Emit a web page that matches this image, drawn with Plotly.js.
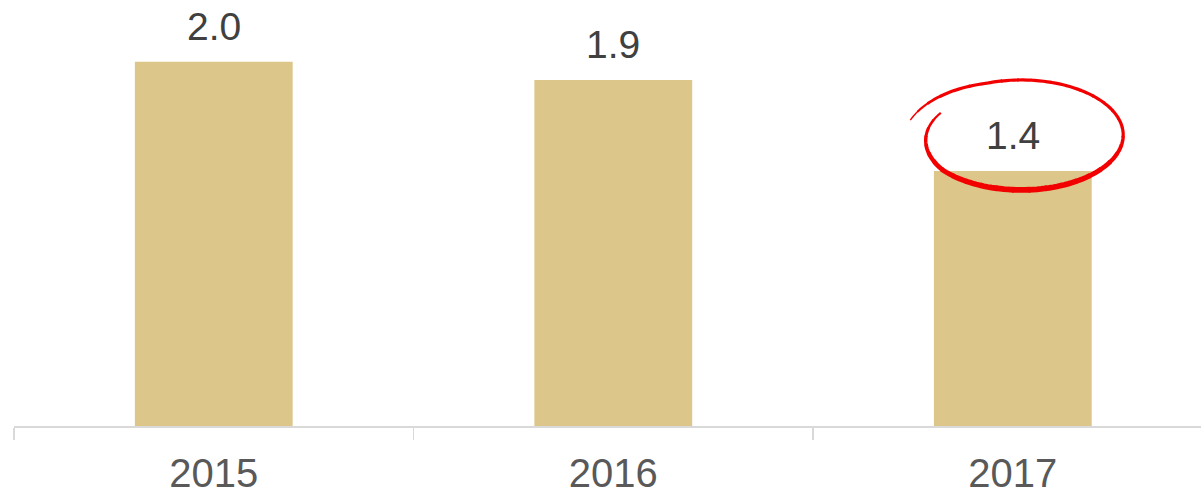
<!DOCTYPE html>
<html>
<head>
<meta charset="utf-8">
<script src="https://cdn.plot.ly/plotly-3.0.1.min.js"></script>
<style>
  html, body { margin: 0; padding: 0; background: #ffffff; overflow: hidden; }
  #chart { width: 1201px; height: 496px; }
</style>
</head>
<body>
<div id="chart"></div>
<script>
// ---- data ----
const years = ["2015", "2016", "2017"];
const values = [2.0, 1.9, 1.4];
const valueLabels = ["2.0", "1.9", "1.4"];
const highlightIndex = 2;

// ---- layout constants ----
const xRange = [-0.5, 2.471];
const yRange = [0, 2.339];

const trace = {
  type: "bar",
  x: years,
  y: values,
  marker: { color: "#dcc689", line: { width: 0 } },
  hoverinfo: "skip"
};

const annotations = years.map((yr, i) => ({
  x: i,
  y: values[i],
  xref: "x",
  yref: "y",
  text: valueLabels[i],
  showarrow: false,
  yanchor: "bottom",
  yshift: 12,
  font: { family: "Liberation Sans, Arial, sans-serif", size: 39, color: "#404040" }
}));

// hand-drawn red ellipse around highlighted label (spiral that overlaps itself)
function px(xi) { return (xi - xRange[0]) / (xRange[1] - xRange[0]); }
function py(y) { return (y - yRange[0]) / (yRange[1] - yRange[0]); }
const cx = highlightIndex + 0.021;
const cy = values[highlightIndex] + 0.198;
const rx = 0.2553;
const ry = 0.302;
const t0 = 194 * Math.PI / 180;
const span = 373 * Math.PI / 180;
function kAt(s) {
  let k = 1;
  if (s < 0.15) k += 0.12 * (1 - s / 0.15);
  if (s > 0.82) k -= 0.115 * ((s - 0.82) / 0.18);
  return k;
}
function pt(s) {
  const t = t0 + span * s;
  const k = kAt(s);
  const x = cx + k * rx * Math.cos(t);
  const y = cy - k * ry * Math.sin(t);
  return [px(x), py(y)];
}
function widthAt(s) {
  const t = t0 + span * s;
  const bottom = Math.max(0, Math.sin(t));
  let w = 3.2 + 2.6 * bottom;
  if (s < 0.08) w *= 0.35 + 0.65 * (s / 0.08);
  if (s > 0.93) w *= 1 - 0.4 * ((s - 0.93) / 0.07);
  return w;
}
const shapes = [];
const nSeg = 40;
for (let j = 0; j < nSeg; j++) {
  const s0 = j / nSeg, s1 = (j + 1) / nSeg;
  let d = "";
  const sub = 4;
  for (let q = 0; q <= sub; q++) {
    const s = s0 + (s1 - s0) * q / sub + (j > 0 && q === 0 ? -0.002 : 0);
    const p = pt(Math.max(0, s));
    d += (q === 0 ? "M" : "L") + p[0].toFixed(5) + "," + p[1].toFixed(5) + " ";
  }
  shapes.push({
    type: "path",
    xref: "paper",
    yref: "paper",
    path: d,
    line: { color: "#f20000", width: widthAt((s0 + s1) / 2) },
    layer: "above"
  });
}

const layout = {
  width: 1201,
  height: 496,
  margin: { l: 14, r: 0, t: 0, b: 70, pad: 0 },
  paper_bgcolor: "#ffffff",
  plot_bgcolor: "#ffffff",
  showlegend: false,
  bargap: 0.605,
  xaxis: {
    type: "category",
    range: xRange,
    showgrid: false,
    zeroline: false,
    showline: true,
    linecolor: "#d9d9d9",
    linewidth: 2,
    ticks: "outside",
    tickson: "boundaries",
    ticklen: 12,
    tickwidth: 1.5,
    tickcolor: "#d9d9d9",
    ticklabelstandoff: 11,
    tickfont: { family: "Liberation Sans, Arial, sans-serif", size: 40, color: "#595959" },
    fixedrange: true
  },
  yaxis: {
    range: yRange,
    visible: false,
    showgrid: false,
    zeroline: false,
    fixedrange: true
  },
  annotations: annotations,
  shapes: shapes
};

Plotly.newPlot("chart", [trace], layout, { displayModeBar: false, staticPlot: true });
</script>
</body>
</html>
